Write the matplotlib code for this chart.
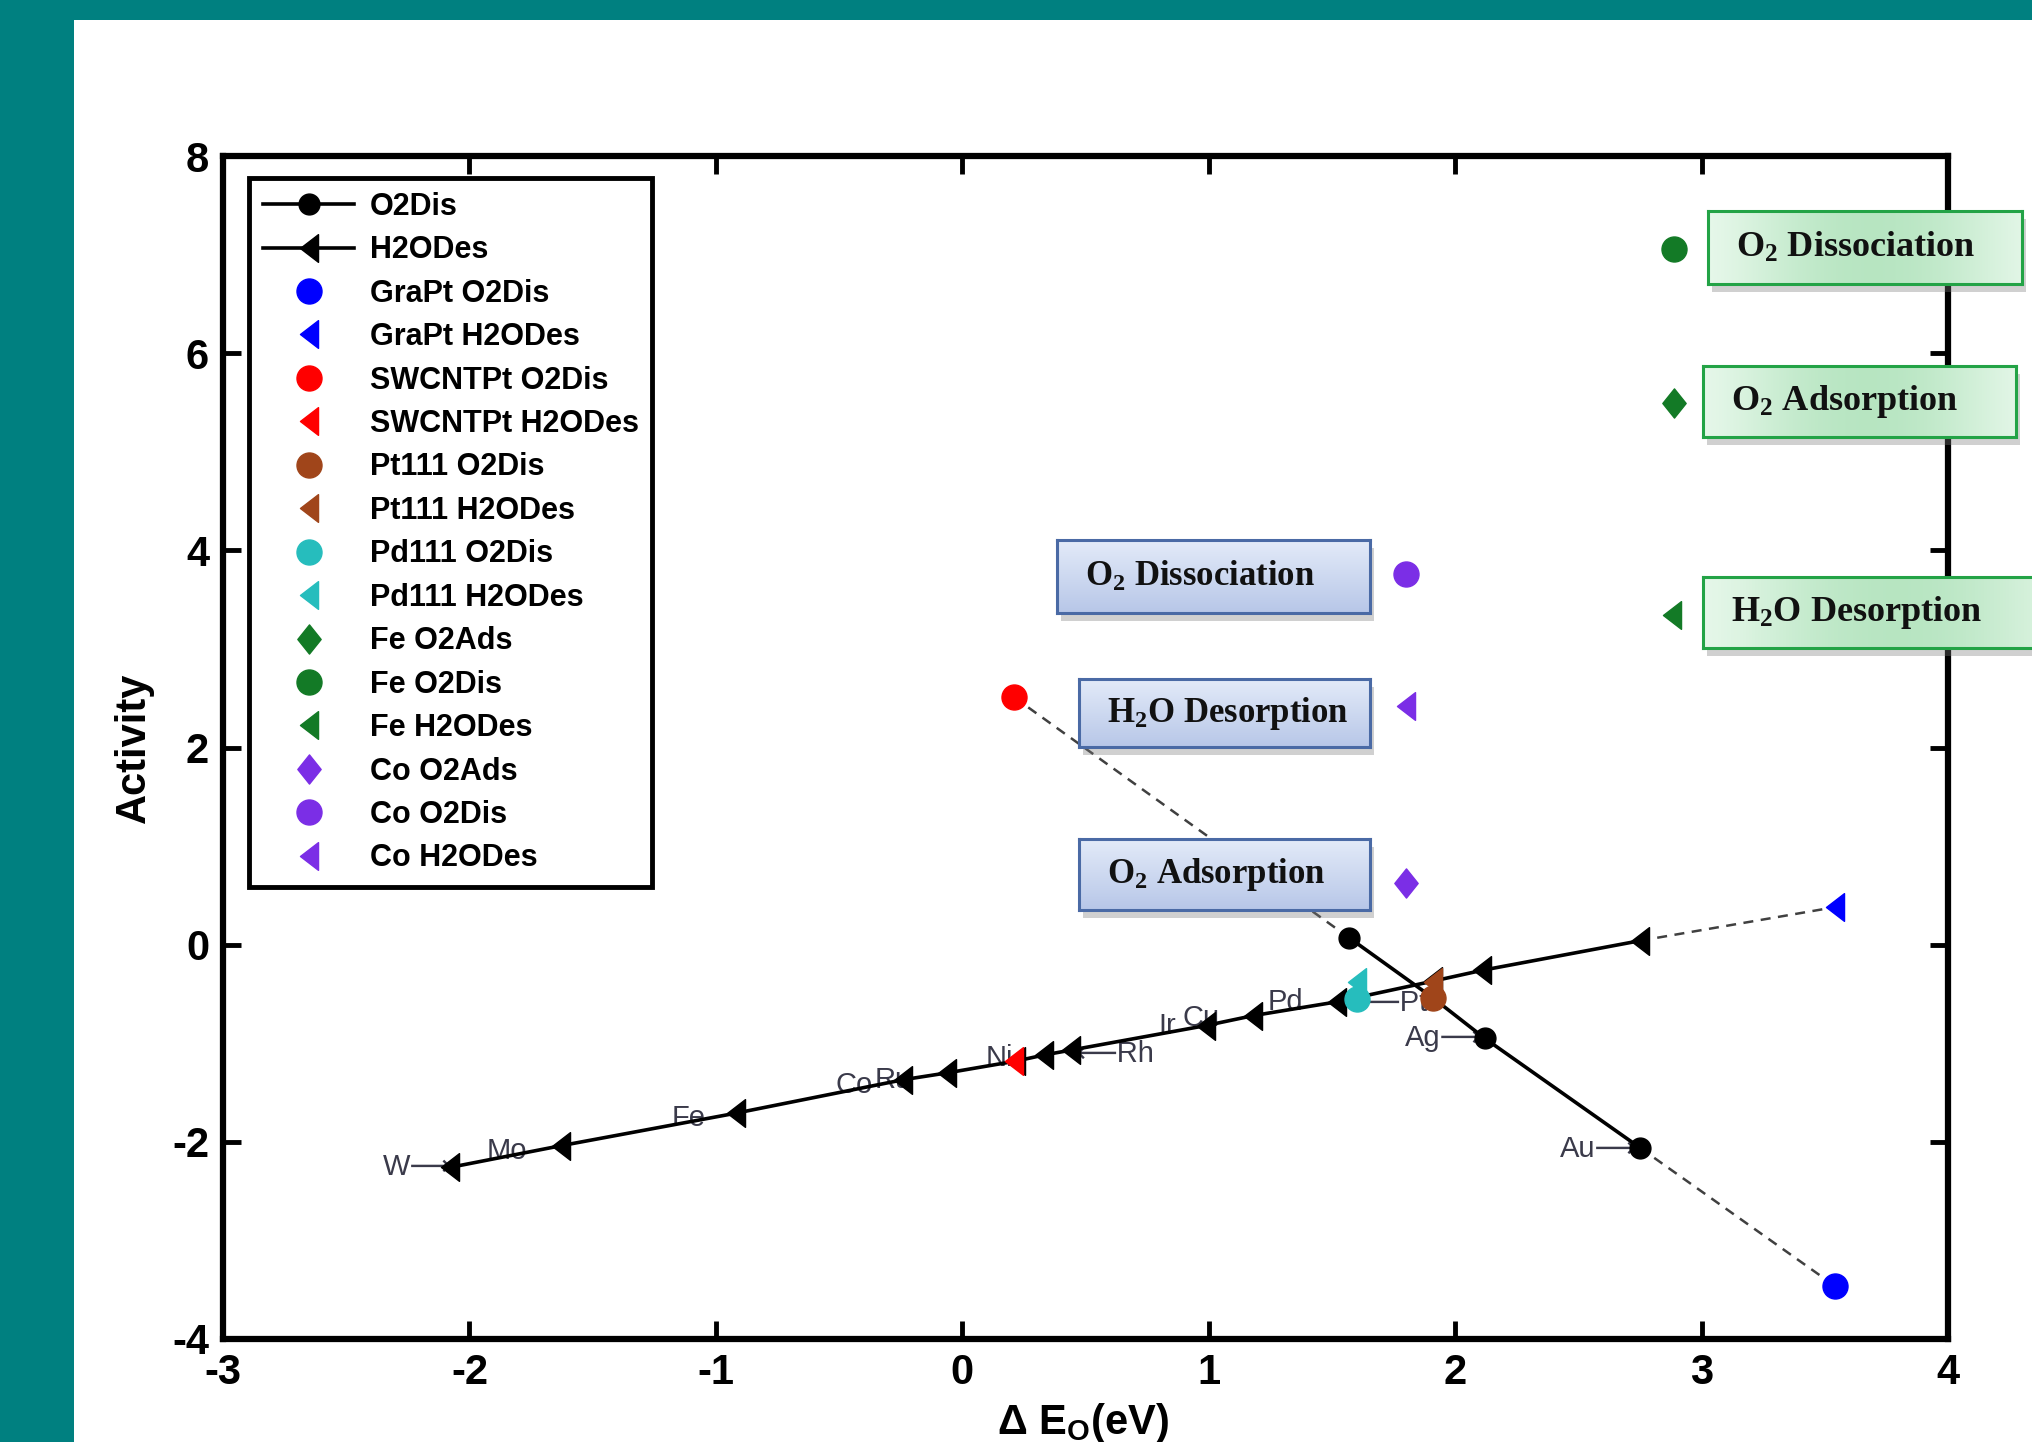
import numpy as np
import matplotlib.pyplot as plt
from matplotlib.patches import Rectangle
from matplotlib.path import Path

plt.rcParams['font.family'] = ['Liberation Sans', 'DejaVu Sans']
plt.rcParams['mathtext.default'] = 'regular'
plt.rcParams['axes.unicode_minus'] = False

W_PX, H_PX = 2033, 1442

# metal volcano lines
o2dis_x = [1.57, 1.91, 2.12, 2.75]
o2dis_y = [0.07, -0.54, -0.95, -2.06]
h2odes_x = [-2.08, -1.63, -0.92, -0.24, -0.06, 0.22, 0.33, 0.44, 0.99, 1.18, 1.52, 1.91, 2.11, 2.75]
h2odes_y = [-2.26, -2.04, -1.71, -1.37, -1.30, -1.18, -1.12, -1.07, -0.82, -0.72, -0.58, -0.37, -0.26, 0.04]

# single catalysts: name, x, y
point_names = ['GraPt O2Dis', 'GraPt H2ODes', 'SWCNTPt O2Dis', 'SWCNTPt H2ODes',
               'Pt111 O2Dis', 'Pt111 H2ODes', 'Pd111 O2Dis', 'Pd111 H2ODes',
               'Fe O2Ads', 'Fe O2Dis', 'Fe H2ODes', 'Co O2Ads', 'Co O2Dis', 'Co H2ODes']
point_x = [3.54, 3.54, 0.21, 0.21, 1.91, 1.91, 1.60, 1.60, 2.89, 2.89, 2.88, 1.80, 1.80, 1.80]
point_y = [-3.46, 0.38, 2.51, -1.18, -0.54, -0.38, -0.55, -0.38, 5.49, 7.06, 3.34, 0.63, 3.76, 2.42]

# metal labels
metal_labels = ['W\u27f6', 'Mo', 'Fe', 'Co', 'Ru', 'Ni', '\u27f5Rh', 'Ir', 'Cu', 'Pd',
                '\u27f5Pt', 'Ag\u27f6', 'Au\u27f6']
metal_lx = [-2.07, -1.85, -1.11, -0.44, -0.28, 0.15, 0.46, 0.83, 0.97, 1.31, 1.61, 2.11, 2.74]
metal_ly = [-2.26, -2.09, -1.76, -1.42, -1.37, -1.15, -1.11, -0.83, -0.74, -0.58, -0.59, -0.95, -2.07]
metal_ha = ['right', 'center', 'center', 'center', 'center', 'center', 'left',
            'center', 'center', 'center', 'left', 'right', 'right']

box_texts = ['O$_2$ Dissociation', 'H$_2$O Desorption', 'O$_2$ Adsorption',
             'O$_2$ Dissociation', 'O$_2$ Adsorption', 'H$_2$O Desorption']

# marker shapes (MATLAB-like, taller than wide)
tri = Path([(-0.65, 0), (0.65, 1), (0.65, -1), (-0.65, 0)],
           [Path.MOVETO, Path.LINETO, Path.LINETO, Path.CLOSEPOLY])
dia = Path([(0, 1), (0.8, 0), (0, -1), (-0.8, 0), (0, 1)],
           [Path.MOVETO, Path.LINETO, Path.LINETO, Path.LINETO, Path.CLOSEPOLY])

blue, red, brown, cyan = '#0000ff', '#ff0000', '#a0451a', '#26bdbd'
green, purple = '#137a26', '#7b2ee6'
point_color = [blue, blue, red, red, brown, brown, cyan, cyan, green, green, green, purple, purple, purple]
point_marker = ['o', tri, 'o', tri, 'o', tri, 'o', tri, dia, 'o', tri, dia, 'o', tri]

fig = plt.figure(figsize=(W_PX / 100, H_PX / 100), dpi=100, facecolor='white')
fig.add_artist(Rectangle((0, 1 - 20 / H_PX), 1, 20 / H_PX, transform=fig.transFigure,
                         fc='#008080', ec='none', zorder=-5))
fig.add_artist(Rectangle((0, 0), 74 / W_PX, 1, transform=fig.transFigure,
                         fc='#008080', ec='none', zorder=-5))

ax = fig.add_axes([223 / W_PX, 1 - 1339 / H_PX, (1948 - 223) / W_PX, (1339 - 156) / H_PX])

# dashed connectors to the supported catalysts
dash_kw = dict(color='#404040', lw=1.8, dashes=(4, 3), zorder=1.8)
ax.plot([point_x[2], o2dis_x[0]], [point_y[2], o2dis_y[0]], **dash_kw)
ax.plot([o2dis_x[-1], point_x[0]], [o2dis_y[-1], point_y[0]], **dash_kw)
ax.plot([h2odes_x[-1], point_x[1]], [h2odes_y[-1], point_y[1]], **dash_kw)

handles = []
h, = ax.plot(o2dis_x, o2dis_y, '-', color='black', lw=2.6, marker='o', ms=15,
             label='O2Dis', zorder=2)
handles.append(h)
h, = ax.plot(h2odes_x, h2odes_y, '-', color='black', lw=2.6, marker=tri, ms=20,
             label='H2ODes', zorder=2)
handles.append(h)
for name, x, y, c, m in zip(point_names, point_x, point_y, point_color, point_marker):
    ms = 18 if m == 'o' else (20 if m is tri else 21)
    h, = ax.plot([x], [y], linestyle='none', marker=m, ms=ms, color=c, mec=c,
                 label=name, zorder=3)
    handles.append(h)

for t, x, y, ha in zip(metal_labels, metal_lx, metal_ly, metal_ha):
    ax.text(x, y, t, ha=ha, va='center', fontsize=21, color='#3a3a4a', zorder=1.5)

ax.set_xlim(-3, 4)
ax.set_ylim(-4, 8)
ax.set_xticks(range(-3, 5))
ax.set_yticks(range(-4, 9, 2))
ax.tick_params(direction='in', length=13, width=3.5, top=True, right=True,
               labelsize=30, pad=10)
for lbl in ax.get_xticklabels() + ax.get_yticklabels():
    lbl.set_fontweight('bold')
for sp in ax.spines.values():
    sp.set_linewidth(4.5)

leg = ax.legend(handles=handles, loc='upper left', bbox_to_anchor=(0.0151, 0.9814),
                borderaxespad=0, fancybox=False, framealpha=1, edgecolor='black',
                prop=dict(size=22, weight='bold'), handlelength=3.0, handletextpad=0.5,
                labelspacing=0.44, borderpad=0.45, numpoints=1)
leg.get_frame().set_linewidth(3.5)

fig.text(133.5 / W_PX, 1 - 748 / H_PX, 'Activity', rotation=90, ha='center', va='center',
         fontsize=30, fontweight='bold')
fig.text(1083 / W_PX, 1 - 1434 / H_PX, '\u0394 E$_O$(eV)', ha='center', va='baseline',
         fontsize=30, fontweight='bold')

# callout boxes (pixel rectangles in the full picture)
box_rects = [(1057, 540, 1370, 613), (1079, 679, 1370, 747), (1079, 839, 1370, 910),
             (1708, 211, 2022, 284), (1703, 366, 2016, 437), (1703, 577, 2070, 648)]
box_kind = ['blue', 'blue', 'blue', 'green', 'green', 'green']

ny = 60
tv = np.linspace(0, 1, ny)[:, None]
top_c, bot_c = np.array([0.89, 0.92, 0.975]), np.array([0.72, 0.78, 0.91])
blue_grad = (top_c + (bot_c - top_c) * tv)[:, None, :].repeat(2, axis=1)
th = np.linspace(0, 1, 120)
wgt = np.sin(np.pi * np.clip(th * 0.95, 0, 1)) ** 1.3
light_c, mid_c = np.array([0.90, 0.97, 0.915]), np.array([0.72, 0.90, 0.76])
green_grad = (light_c + (mid_c - light_c) * wgt[:, None])[None, :, :].repeat(2, axis=0)

for (x0, y0, x1, y1), kind, txt in zip(box_rects, box_kind, box_texts):
    left, bottom = x0 / W_PX, 1 - y1 / H_PX
    width, height = (x1 - x0) / W_PX, (y1 - y0) / H_PX
    fig.add_artist(Rectangle((left + 4 / W_PX, bottom - 8 / H_PX), width, height,
                             transform=fig.transFigure, fc='#7a7a7a', ec='none',
                             alpha=0.35, zorder=2))
    bax = fig.add_axes([left, bottom, width, height])
    bax.set_zorder(3)
    bax.imshow(blue_grad if kind == 'blue' else green_grad, aspect='auto', extent=[0, 1, 0, 1])
    bax.set_xticks([])
    bax.set_yticks([])
    edge = '#4a6aa5' if kind == 'blue' else '#23a346'
    for sp in bax.spines.values():
        sp.set_color(edge)
        sp.set_linewidth(2.2)
    bax.text(28 / (x1 - x0), 0.5, txt, transform=bax.transAxes, ha='left', va='center',
             fontsize=25 if kind == 'blue' else 26, fontweight='bold',
             family=['Liberation Serif', 'DejaVu Serif'], color='#111111')

fig.savefig('out.png', dpi=100, facecolor='white')
